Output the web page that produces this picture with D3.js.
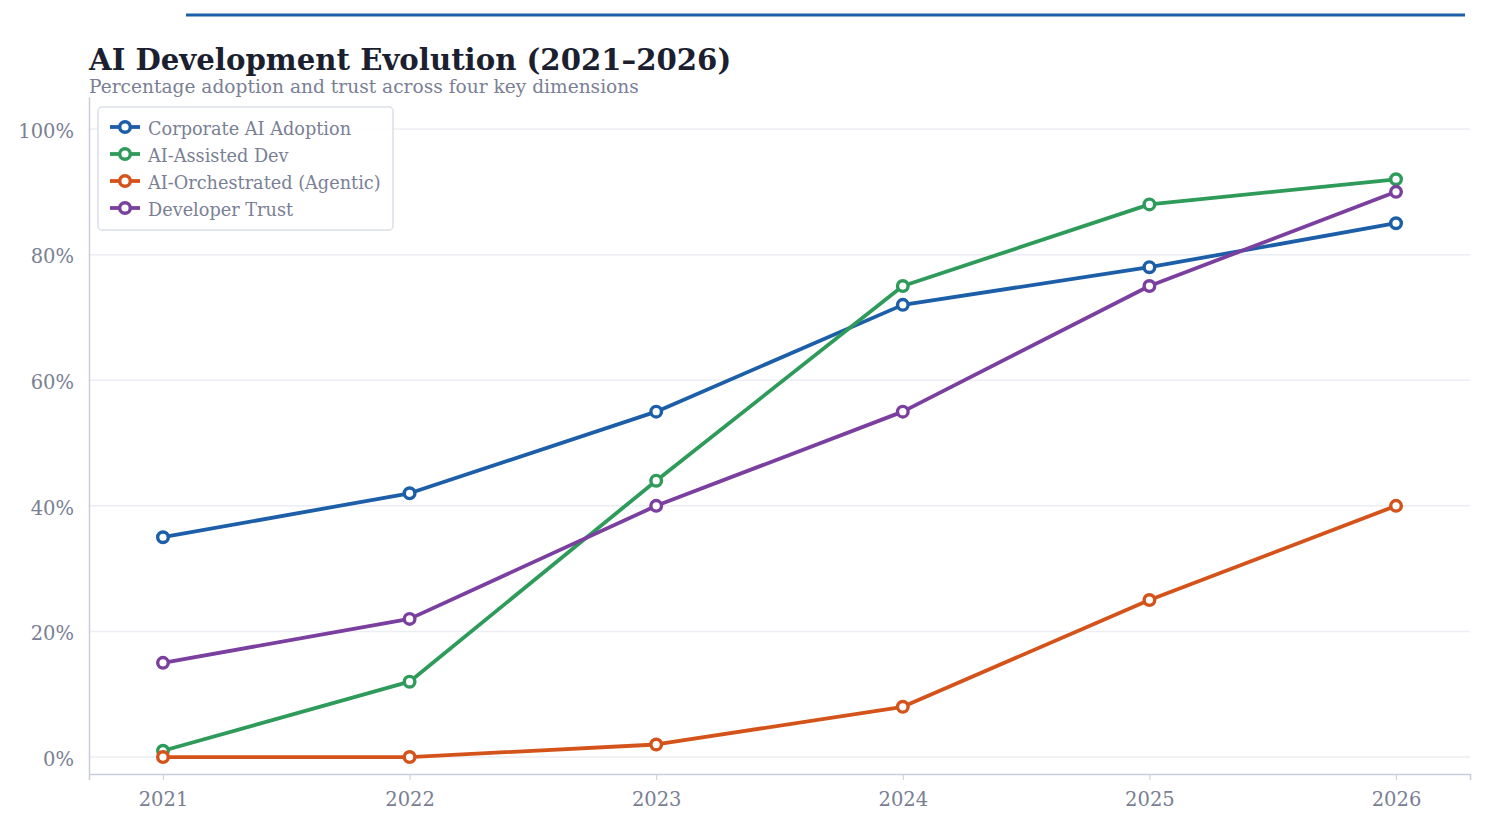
<!DOCTYPE html>
<html>
<head>
<meta charset="utf-8">
<script src="https://cdn.jsdelivr.net/npm/d3@7"></script>
<style>
  body { margin: 0; background: #fff; }
  svg text { font-family: "DejaVu Serif", serif; }
</style>
</head>
<body>
<svg id="chart" width="1485" height="825"></svg>
<script>
var years = [2021, 2022, 2023, 2024, 2025, 2026];
var seriesNames = ["Corporate AI Adoption", "AI-Assisted Dev", "AI-Orchestrated (Agentic)", "Developer Trust"];
var seriesColors = ["#1c5fa8", "#2e9b5a", "#d4531a", "#7a3f9f"];
var corporate = [35, 42, 55, 72, 78, 85];
var assisted = [1, 12, 44, 75, 88, 92];
var orchestrated = [0, 0, 2, 8, 25, 40];
var trust = [15, 22, 40, 55, 75, 90];
var yTicks = [0, 20, 40, 60, 80, 100];

var allSeries = [corporate, assisted, orchestrated, trust];

var svg = d3.select("#chart");
var plotLeft = 89, plotRight = 1470, plotTop = 97, plotBottom = 774;

var x = d3.scaleLinear().domain([2020.7, 2026.3]).range([plotLeft, plotRight]);
var y = d3.scaleLinear().domain([-2.7, 105.1]).range([plotBottom, plotTop]);

// top accent line
svg.append("line")
  .attr("x1", 186).attr("x2", 1465)
  .attr("y1", 15).attr("y2", 15)
  .attr("stroke", "#1c5fa8")
  .attr("stroke-width", 3);

// title
svg.append("text")
  .attr("x", 89).attr("y", 69.5)
  .attr("font-size", "29.2px")
  .attr("font-weight", "bold")
  .attr("fill", "#1b1f30")
  .text("AI Development Evolution (2021\u20132026)");

svg.append("text")
  .attr("x", 89).attr("y", 92.5)
  .attr("font-size", "18.6px")
  .attr("fill", "#7a8094")
  .text("Percentage adoption and trust across four key dimensions");

// grid
svg.append("g").selectAll("line")
  .data(yTicks)
  .join("line")
  .attr("x1", plotLeft).attr("x2", plotRight)
  .attr("y1", d => y(d)).attr("y2", d => y(d))
  .attr("stroke", "#eceef3")
  .attr("stroke-width", 1.5);

// axes
var yAxis = svg.append("g")
  .attr("transform", "translate(" + plotLeft + ",0)")
  .call(d3.axisLeft(y).tickValues(yTicks).tickSize(0).tickPadding(15).tickFormat(d => d + "%"));
var xAxis = svg.append("g")
  .attr("transform", "translate(0," + plotBottom + ")")
  .call(d3.axisBottom(x).tickValues(years).tickSize(6).tickPadding(12.5).tickFormat(d3.format("d")));

[yAxis, xAxis].forEach(function(a) {
  a.select(".domain").attr("stroke", "#c9cdd9").attr("stroke-width", 1.5);
  a.selectAll(".tick line").attr("stroke", "#c9cdd9");
  a.selectAll("text")
    .attr("fill", "#7a8094")
    .attr("font-size", "19.5px")
    .attr("font-family", "DejaVu Serif, serif");
});
yAxis.selectAll("text").attr("dy", "0.42em");

// lines
var line = d3.line()
  .x((d, i) => x(years[i]))
  .y(d => y(d));

allSeries.forEach(function(values, s) {
  svg.append("path")
    .datum(values)
    .attr("d", line)
    .attr("fill", "none")
    .attr("stroke", seriesColors[s])
    .attr("stroke-width", 3.8)
    .attr("stroke-linejoin", "round");
  svg.append("g").selectAll("circle")
    .data(values)
    .join("circle")
    .attr("cx", (d, i) => x(years[i]))
    .attr("cy", d => y(d))
    .attr("r", 5.3)
    .attr("fill", "#fff")
    .attr("stroke", seriesColors[s])
    .attr("stroke-width", 3.4);
});

// legend
var legend = svg.append("g");
legend.append("rect")
  .attr("x", 98).attr("y", 107)
  .attr("width", 295).attr("height", 123)
  .attr("rx", 4)
  .attr("fill", "#fff")
  .attr("fill-opacity", 0.9)
  .attr("stroke", "#dde0ea")
  .attr("stroke-width", 1.5);

seriesNames.forEach(function(name, i) {
  var ly = 127 + i * 27;
  legend.append("line")
    .attr("x1", 110).attr("x2", 140)
    .attr("y1", ly).attr("y2", ly)
    .attr("stroke", seriesColors[i])
    .attr("stroke-width", 3.8);
  legend.append("circle")
    .attr("cx", 125).attr("cy", ly)
    .attr("r", 5.3)
    .attr("fill", "#fff")
    .attr("stroke", seriesColors[i])
    .attr("stroke-width", 3.4);
  legend.append("text")
    .attr("x", 148).attr("y", ly + 1.5)
    .attr("dy", "0.35em")
    .attr("font-size", "17.7px")
    .attr("fill", "#7a8094")
    .text(name);
});
</script>
</body>
</html>
